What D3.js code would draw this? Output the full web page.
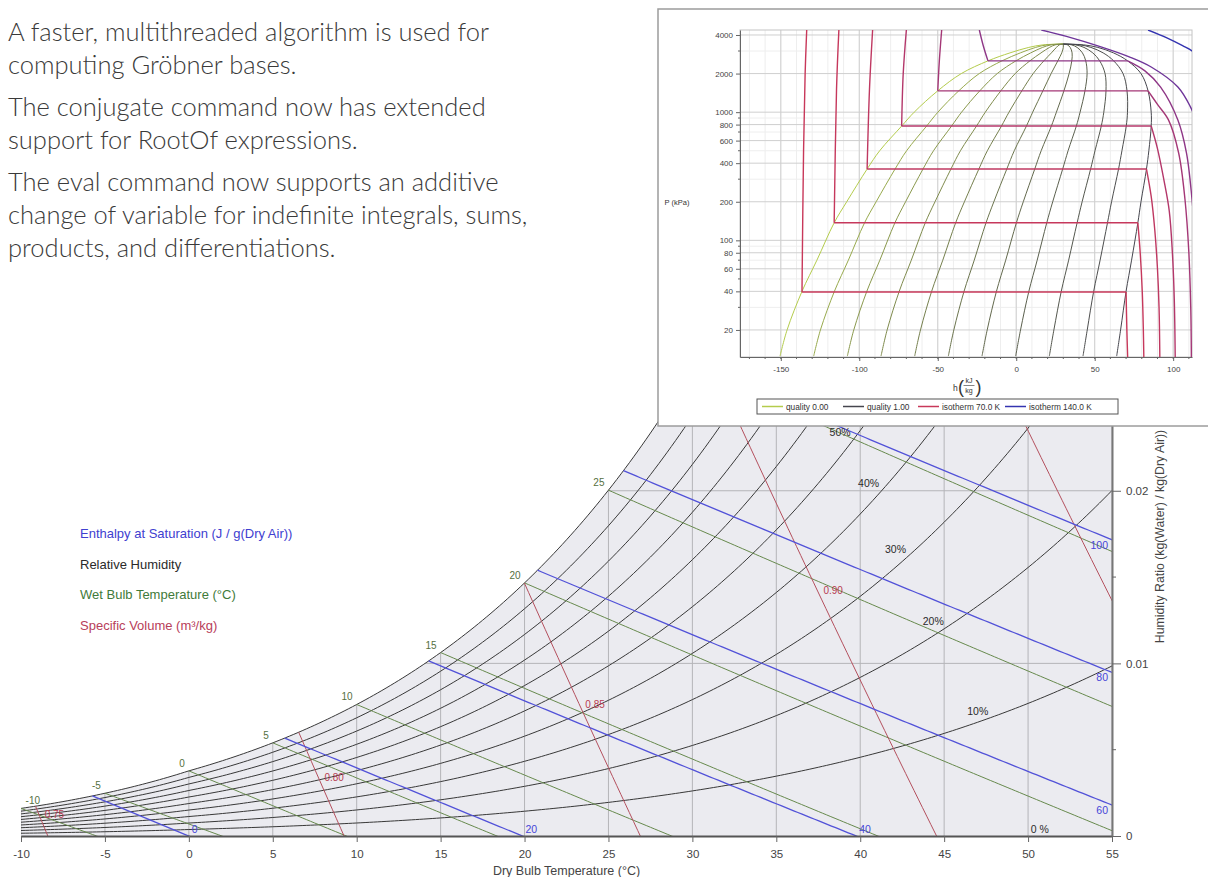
<!DOCTYPE html>
<html>
<head>
<meta charset="utf-8">
<script src="https://cdn.jsdelivr.net/npm/d3@7"></script>
<style>
  body { margin: 0; background: #fff; }
  svg { display: block; }
  .note { font-family: Lato, "Open Sans", sans-serif; font-weight: 300; font-size: 25.5px; fill: #3a3a3a; }
  .psy text, .ph text { font-family: "Liberation Sans", Arial, sans-serif; }
</style>
</head>
<body>
<svg id="chart" width="1208" height="877"></svg>
<script>
// --- text block, top left ---
const notes = [
  ['A faster, multithreaded algorithm is used for', 'computing Gröbner bases.'],
  ['The conjugate command now has extended', 'support for RootOf expressions.'],
  ['The eval command now supports an additive', 'change of variable for indefinite integrals, sums,', 'products, and differentiations.']
];

// --- psychrometric chart values ---
const tempTicks = [-10, -5, 0, 5, 10, 15, 20, 25, 30, 35, 40, 45, 50, 55];
const ratioTicks = [0, 0.01, 0.02];
const ratioMinor = [0.005, 0.015, 0.025];
const gridRatios = [0.01, 0.02, 0.03];
const rhLevels = [0.1, 0.2, 0.3, 0.4, 0.5, 0.6, 0.7, 0.8, 0.9, 1.0];
const rhLabelLevels = [0, 0.1, 0.2, 0.3, 0.4, 0.5, 0.6, 0.7, 0.8, 0.9];
const rhLabels = ['0 %', '10%', '20%', '30%', '40%', '50%', '60%', '70%', '80%', '90%'];
const rhLabelT = [50.7, 47.0, 44.35, 42.1, 40.5, 38.8, 37.3, 35.9, 34.6, 33.4];
const wetBulbLevels = [-10, -5, 0, 5, 10, 15, 20, 25, 30];
const enthalpyLevels = [0, 20, 40, 60, 80, 100, 120];
const volumeLevels = [0.75, 0.80, 0.85, 0.90, 0.95];
const legendNames = ['Enthalpy at Saturation (J / g(Dry Air))', 'Relative Humidity', 'Wet Bulb Temperature (°C)', 'Specific Volume (m³/kg)'];
const legendColors = ['#4040d0', '#2a2a2a', '#3f7a3a', '#b8405a'];

// --- nitrogen P-h inset values ---
const phTicksX = [-150, -100, -50, 0, 50, 100];
const phTicksY = [20, 40, 60, 80, 100, 200, 400, 600, 800, 1000, 2000, 4000];
const phMinorY = [30, 50, 70, 90, 300, 500, 700, 900, 3000];
const domeP  = [12.5, 20, 40, 70, 137, 200, 360, 500, 779, 1000, 1467, 2000, 2513, 2900, 3200, 3350, 3396];
const domeHl = [-150.5, -146, -136.5, -127, -116, -108, -95, -87, -73, -65, -50, -35, -18, -4, 8, 17, 30];
const domeHv = [64, 66.5, 70, 73.5, 77.5, 79.5, 83, 84.5, 86, 86, 84, 79.5, 71, 62, 52, 43, 30];
const qualityLevels = [0, 0.1, 0.2, 0.3, 0.4, 0.5, 0.6, 0.7, 0.8, 0.9, 1.0];
const isoTemps = [70, 80, 90, 100, 110, 120, 130, 140];
const isoPoints = [
  [[-133.5, 4375], [-134.5, 2000], [-135.5, 500], [-136.5, 39.5], [70, 39.5], [70.5, 20], [71, 12.3]],
  [[-113, 4375], [-114.5, 1500], [-116, 137], [77.5, 137], [79, 80], [80.3, 40], [81, 20], [81.3, 12.3]],
  [[-91.5, 4375], [-93.5, 1500], [-95, 360], [83, 360], [86, 220], [88.3, 120], [90, 60], [91, 30], [91.5, 12.3]],
  [[-70, 4375], [-72, 2000], [-73, 779], [86, 779], [90, 520], [94, 300], [97.5, 170], [99.5, 80], [100.7, 35], [101.3, 12.3]],
  [[-47.5, 4375], [-49, 2500], [-50, 1467], [84, 1467], [90, 1150], [97, 870], [103.5, 480], [107.5, 210], [110, 80], [111.2, 30], [111.6, 12.3]],
  [[-23.5, 4375], [-21, 3300], [-18, 2513], [71, 2513], [82, 2100], [92, 1570], [103, 870], [108.5, 480], [112, 210], [113, 150]],
  [[16, 4375], [32, 3900], [54, 3230], [72, 2700], [86, 2250], [103, 1570], [111, 1100], [114, 900]],
  [[84, 4375], [96, 3800], [106, 3300], [113, 2950], [116, 2700]]
];
const phLegend = ['quality 0.00', 'quality 1.00', 'isotherm 70.0 K', 'isotherm 140.0 K'];

const svg = d3.select('#chart');

// 1) notes
const noteG = svg.append('g');
let baseY = 41;
notes.forEach(par => {
  par.forEach(line => {
    noteG.append('text').attr('class', 'note').attr('x', 8).attr('y', baseY).text(line);
    baseY += 33;
  });
  baseY += 9;
});

// 2) psychrometric chart
const psy = svg.append('g').attr('class', 'psy');
const x = d3.scaleLinear().domain([-10, 55]).range([21, 1112]);
const y = d3.scaleLinear().domain([0, 0.0347]).range([836, 237]);

const pws = T => T >= 0 ? 0.61094 * Math.exp(17.625 * T / (T + 243.04))
                        : 0.61115 * Math.exp(22.452 * T / (272.55 + T));
const wFromPw = pw => 0.622 * pw / (101.325 - pw);
const wSat = T => wFromPw(pws(T));
const wRh = (phi, T) => wFromPw(phi * pws(T));
const wWetBulb = (tw, T) => {
  const ws = wSat(tw);
  return tw >= 0
    ? ((2501 - 2.326 * tw) * ws - 1.006 * (T - tw)) / (2501 + 1.86 * T - 4.186 * tw)
    : ((2830 - 0.24 * tw) * ws - 1.006 * (T - tw)) / (2830 + 1.86 * T - 2.1 * tw);
};
const wEnth = (h, T) => (h - 1.006 * T) / (2501 + 1.86 * T);
const wVol = (v, T) => (v * 101.325 / (0.287042 * (T + 273.15)) - 1) / 1.607858;

function satStart(f) {
  let lo = -40, hi = 90;
  for (let i = 0; i < 60; i++) {
    const m = (lo + hi) / 2;
    if (f(m) > wSat(m)) lo = m; else hi = m;
  }
  return (lo + hi) / 2;
}
function trace(f, t0) {
  const pts = [];
  for (let T = t0; T <= 56; T += 0.25) {
    const w = f(T);
    pts.push([T, w]);
    if (w < -0.002) break;
  }
  return pts;
}

const defs = svg.append('defs');
defs.append('clipPath').attr('id', 'plotClip')
  .append('rect').attr('x', 21).attr('y', 237).attr('width', 1091).attr('height', 599);

const satPts = d3.range(-10, 55.01, 0.25).map(T => [T, wSat(T)]);
const satArea = d3.area().x(d => x(d[0])).y0(y(0)).y1(d => y(d[1]));
defs.append('clipPath').attr('id', 'satClip')
  .append('path').attr('d', satArea(satPts));

const line = d3.line().x(d => x(d[0])).y(d => y(d[1]));
const plot = psy.append('g').attr('clip-path', 'url(#plotClip)');

// grey fill under saturation
plot.append('path').attr('d', satArea(satPts)).attr('fill', '#ebebf0');

// grid clipped to the fill
const grid = plot.append('g').attr('clip-path', 'url(#satClip)')
  .attr('stroke', '#b4b4b8').attr('stroke-width', 1);
grid.selectAll('line.v').data(tempTicks).join('line')
  .attr('x1', d => x(d)).attr('x2', d => x(d)).attr('y1', y(0)).attr('y2', 237);
grid.selectAll('line.h').data(gridRatios).join('line')
  .attr('x1', 21).attr('x2', 1112).attr('y1', d => y(d)).attr('y2', d => y(d));

// relative humidity curves
plot.selectAll('path.rh').data(rhLevels).join('path')
  .attr('fill', 'none').attr('stroke', '#383838').attr('stroke-width', 1)
  .attr('d', phi => line(d3.range(-10, 55.01, 0.25).map(T => [T, wRh(phi, T)])));

// wet bulb lines
plot.selectAll('path.wb').data(wetBulbLevels).join('path')
  .attr('fill', 'none').attr('stroke', '#66894c').attr('stroke-width', 1)
  .attr('d', tw => line(trace(T => wWetBulb(tw, T), tw)));

// specific volume lines
plot.selectAll('path.vol').data(volumeLevels).join('path')
  .attr('fill', 'none').attr('stroke', '#b4505e').attr('stroke-width', 1)
  .attr('d', v => line(trace(T => wVol(v, T), satStart(T => wVol(v, T)))));

// enthalpy lines
plot.selectAll('path.h').data(enthalpyLevels).join('path')
  .attr('fill', 'none').attr('stroke', '#5252d8').attr('stroke-width', 1.3)
  .attr('d', h => line(trace(T => wEnth(h, T), satStart(T => wEnth(h, T)))));

// labels (the inset covers the ones that fall under it)
const labels = psy.append('g').attr('font-size', 10);
labels.selectAll('text.wb').data(wetBulbLevels).join('text')
  .attr('x', d => Math.max(x(d) - 4, 40)).attr('y', d => y(wSat(d)) - 4)
  .attr('text-anchor', 'end').attr('fill', '#55703f').text(d => d);

labels.selectAll('text.rh').data(rhLabelLevels).join('text')
  .attr('x', (d, i) => x(rhLabelT[i]))
  .attr('y', (d, i) => y(wRh(d, rhLabelT[i])) - (d === 0 ? 3 : 4 + 34 * d))
  .attr('font-size', 10.5)
  .attr('text-anchor', 'middle').attr('fill', '#2a2a2a').text((d, i) => rhLabels[i]);

labels.selectAll('text.h').data(enthalpyLevels).join('text')
  .each(function(h) {
    const tEnd = h / 1.006;
    const t = d3.select(this).attr('fill', '#4646d8').attr('font-size', 10.5).text(h);
    if (tEnd <= 55) t.attr('x', x(tEnd) + 3).attr('y', y(0) - 3).attr('text-anchor', 'start');
    else t.attr('x', x(55) - 4).attr('y', y(wEnth(h, 55)) + 9).attr('text-anchor', 'end');
  });

labels.selectAll('text.vol').data(volumeLevels).join('text')
  .each(function(v) {
    const f = T => wVol(v, T);
    const t0 = satStart(f);
    const tZero = v * 101.325 / 0.287042 - 273.15;
    const tEnd = Math.min(tZero, 55);
    const mid = (t0 + tEnd) / 2;
    d3.select(this).attr('x', x(mid) + 3).attr('y', y(f(mid)) - 3)
      .attr('fill', '#b83c50').text(v.toFixed(2));
  });

// axes
const xAxis = psy.append('g').attr('transform', `translate(0,${y(0)})`)
  .call(d3.axisBottom(x).tickValues(tempTicks).tickSize(6).tickSizeOuter(0).tickPadding(8).tickFormat(d => String(d)));
xAxis.select('.domain').attr('stroke', '#555').attr('stroke-width', 2);
xAxis.selectAll('.tick line').attr('stroke', '#666');
xAxis.selectAll('.tick text').attr('font-size', 11.5).attr('fill', '#444')
  .attr('font-family', '"Liberation Sans", Arial, sans-serif');

const yAxis = psy.append('g').attr('transform', `translate(${x(55)},0)`)
  .call(d3.axisRight(y).tickValues(ratioTicks).tickSize(9).tickSizeOuter(0).tickPadding(5)
    .tickFormat(d => d === 0 ? '0' : d.toFixed(2)));
yAxis.select('.domain').attr('stroke', '#777').attr('stroke-width', 2);
yAxis.selectAll('.tick line').attr('stroke', '#666');
yAxis.selectAll('.tick text').attr('font-size', 11.5).attr('fill', '#444')
  .attr('font-family', '"Liberation Sans", Arial, sans-serif');
psy.selectAll('line.minor').data(ratioMinor).join('line')
  .attr('x1', x(55)).attr('x2', x(55) + 4).attr('y1', d => y(d)).attr('y2', d => y(d))
  .attr('stroke', '#666');

psy.append('text').attr('x', (x(-10) + x(55)) / 2).attr('y', 875)
  .attr('text-anchor', 'middle').attr('font-size', 12.5).attr('fill', '#444')
  .text('Dry Bulb Temperature (°C)');
psy.append('text').attr('transform', `translate(1164,${(y(0) + 237) / 2}) rotate(-90)`)
  .attr('text-anchor', 'middle').attr('font-size', 12.3).attr('fill', '#444')
  .text('Humidity Ratio (kg(Water) / kg(Dry Air))');

psy.selectAll('text.legend').data(legendNames).join('text')
  .attr('x', 80).attr('y', (d, i) => 538 + i * 30.5)
  .attr('font-size', 13).attr('fill', (d, i) => legendColors[i]).text(d => d);

// 3) inset: nitrogen P-h chart
const ph = svg.append('g').attr('class', 'ph');
ph.append('rect').attr('x', 658).attr('y', 9).attr('width', 600).attr('height', 417)
  .attr('fill', '#fff').attr('stroke', '#9c9c9c').attr('stroke-width', 1.5);

const xH = d3.scaleLinear().domain([-176, 112]).range([740, 1192]);
const yP = d3.scaleLog().domain([12.3, 4375]).range([357, 30]);

defs.append('clipPath').attr('id', 'phClip')
  .append('rect').attr('x', 740).attr('y', 30).attr('width', 452).attr('height', 327);

const phGrid = ph.append('g');
phGrid.selectAll('line.vm').data(d3.range(-170, 111, 10)).join('line')
  .attr('x1', d => xH(d)).attr('x2', d => xH(d)).attr('y1', 30).attr('y2', 357)
  .attr('stroke', '#eeeeee');
phGrid.selectAll('line.hm').data(phMinorY).join('line')
  .attr('x1', 740).attr('x2', 1192).attr('y1', d => yP(d)).attr('y2', d => yP(d))
  .attr('stroke', '#eeeeee');
phGrid.selectAll('line.vM').data(phTicksX).join('line')
  .attr('x1', d => xH(d)).attr('x2', d => xH(d)).attr('y1', 30).attr('y2', 357)
  .attr('stroke', '#cfcfcf');
phGrid.selectAll('line.hM').data(phTicksY).join('line')
  .attr('x1', 740).attr('x2', 1192).attr('y1', d => yP(d)).attr('y2', d => yP(d))
  .attr('stroke', '#cfcfcf');
ph.append('rect').attr('x', 740).attr('y', 30).attr('width', 452).attr('height', 327)
  .attr('fill', 'none').attr('stroke', '#c4c4c4');

const phLine = d3.line().x(d => xH(d[0])).y(d => yP(d[1])).curve(d3.curveCatmullRom);
const phPlot = ph.append('g').attr('clip-path', 'url(#phClip)');

const qualityColor = q => d3.interpolateRgb('#b4cc4c', '#46464e')(Math.pow(q, 0.6));
phPlot.selectAll('path.q').data(qualityLevels).join('path')
  .attr('fill', 'none').attr('stroke', qualityColor).attr('stroke-width', 1)
  .attr('d', q => phLine(domeP.map((p, i) => [domeHl[i] + q * (domeHv[i] - domeHl[i]), p])));

const isoColor = i => d3.interpolateLab('#c8385a', '#3434b0')(Math.pow(i / (isoTemps.length - 1), 2));
function splitIso(pts) {
  const segs = [];
  let cur = [pts[0]];
  for (let i = 1; i < pts.length; i++) {
    if (pts[i][1] === pts[i - 1][1]) {
      if (cur.length > 1) segs.push(cur);
      segs.push([pts[i - 1], pts[i]]);
      cur = [pts[i]];
    } else cur.push(pts[i]);
  }
  if (cur.length > 1) segs.push(cur);
  return segs;
}
isoPoints.forEach((pts, i) => {
  phPlot.selectAll(null).data(splitIso(pts)).join('path')
    .attr('fill', 'none').attr('stroke', isoColor(i)).attr('stroke-width', 1.4)
    .attr('d', phLine);
});

// inset axes
const phX = ph.append('g').attr('transform', 'translate(0,357)')
  .call(d3.axisBottom(xH).tickValues(phTicksX).tickSize(4).tickSizeOuter(0).tickPadding(5).tickFormat(d => String(d)));
const phY = ph.append('g').attr('transform', 'translate(740,0)')
  .call(d3.axisLeft(yP).tickValues(phTicksY).tickSize(4).tickSizeOuter(0).tickPadding(3).tickFormat(d => String(d)));
[phX, phY].forEach(a => {
  a.select('.domain').attr('stroke', '#666');
  a.selectAll('.tick line').attr('stroke', '#666');
  a.selectAll('.tick text').attr('font-size', 8).attr('fill', '#444')
    .attr('font-family', '"Liberation Sans", Arial, sans-serif');
});
ph.selectAll('line.ymin').data(phMinorY).join('line')
  .attr('x1', 738).attr('x2', 740).attr('y1', d => yP(d)).attr('y2', d => yP(d)).attr('stroke', '#666');
ph.selectAll('line.xmin').data(d3.range(-170, 111, 10)).join('line')
  .attr('x1', d => xH(d)).attr('x2', d => xH(d)).attr('y1', 357).attr('y2', 359).attr('stroke', '#666');

ph.append('text').attr('x', 677).attr('y', 205).attr('text-anchor', 'middle')
  .attr('font-size', 7.5).attr('fill', '#333').text('P (kPa)');
const hl = ph.append('g').attr('fill', '#333');
hl.append('text').attr('x', 953).attr('y', 391).attr('font-size', 8.5).text('h');
hl.append('text').attr('x', 958).attr('y', 393).attr('font-size', 18).attr('font-weight', 200).text('(');
hl.append('text').attr('x', 969).attr('y', 383).attr('font-size', 7).attr('text-anchor', 'middle').text('kJ');
hl.append('line').attr('x1', 963.5).attr('x2', 974.5).attr('y1', 385.5).attr('y2', 385.5).attr('stroke', '#333').attr('stroke-width', 0.6);
hl.append('text').attr('x', 969).attr('y', 393).attr('font-size', 7).attr('text-anchor', 'middle').text('kg');
hl.append('text').attr('x', 975.5).attr('y', 393).attr('font-size', 18).attr('font-weight', 200).text(')');

// inset legend
const lg = ph.append('g');
lg.append('rect').attr('x', 757).attr('y', 399).attr('width', 361).attr('height', 15)
  .attr('fill', '#fff').attr('stroke', '#555').attr('stroke-width', 1);
const lgColors = [qualityColor(0), qualityColor(1), isoColor(0), isoColor(isoTemps.length - 1)];
const lgX = [762, 843, 918, 1005];
phLegend.forEach((name, i) => {
  lg.append('line').attr('x1', lgX[i]).attr('x2', lgX[i] + 21).attr('y1', 406.5).attr('y2', 406.5)
    .attr('stroke', lgColors[i]).attr('stroke-width', 1.5);
  lg.append('text').attr('x', lgX[i] + 24).attr('y', 409.5).attr('font-size', 8.3).attr('fill', '#333').text(name);
});
</script>
</body>
</html>
